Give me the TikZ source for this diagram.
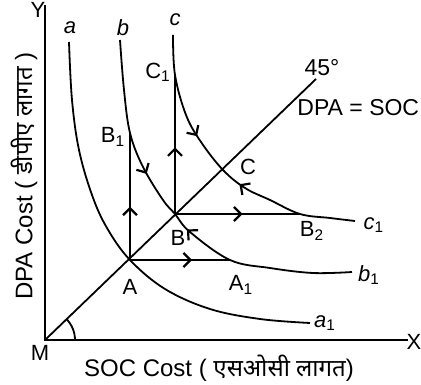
\documentclass[tikz,border=0pt]{standalone}
\usepackage{fontspec}
\setmainfont{Liberation Sans}
\newfontfamily\deva[Script=Devanagari]{Noto Sans}
\usetikzlibrary{arrows.meta, decorations.markings}

\tikzset{
  lbl/.style={font=\fontsize{11}{13}\selectfont, inner sep=0pt},
  chev/.tip={Straight Barb[length=3.5pt,width=7pt,line width=1.1pt]},
  midarrow/.style={postaction={decorate},
    decoration={markings, mark=at position #1 with {\arrow{chev}}}},
}

\begin{document}
\begin{tikzpicture}[x=0.5pt, y=-0.5pt, line width=0.9pt]
    \useasboundingbox (0,0) rectangle (421,384);
    % points
    \coordinate (M) at (45,340);
    \coordinate (Xend) at (408,340);
    \coordinate (Yend) at (45,5);
    \coordinate (Dend) at (316,79);
    \coordinate (A) at (130,260);
    \coordinate (B) at (175,214);
    \coordinate (C) at (223,170);
    \coordinate (A1) at (230,260);
    \coordinate (B1) at (130,133);
    \coordinate (B2) at (300,214);
    \coordinate (C1) at (175,75);

    % axes
    \draw (Yend) -- (M) -- (Xend);
    % 45 degree line
    \draw (M) -- (Dend);
    \draw (M) ++(30,0) arc[start angle=0, end angle=-45, radius=30];

    % curve a
    \draw plot[smooth, tension=0.6] coordinates {(69,42) (72,100) (79,150) (92,195) (107,228) (A) (165,289) (210,309) (260,319) (310,323)};
    % curve b
    \draw[postaction={decorate}, decoration={markings,
        mark=at position 0.36 with {\arrow{chev}},
        mark=at position 0.54 with {\arrowreversed{chev}}}]
      plot[smooth, tension=0.6] coordinates {(120,40) (124,90) (B1) (143,167) (163,200) (B) (190,232) (A1) (270,268) (313,273) (352,272)};
    % curve c
    \draw[postaction={decorate}, decoration={markings,
        mark=at position 0.36 with {\arrow{chev}},
        mark=at position 0.58 with {\arrowreversed{chev}}}]
      plot[smooth, tension=0.6] coordinates {(173,35) (C1) (186,115) (201,142) (C) (245,188) (270,200) (B2) (330,218) (355,221)};

    % paths from A and B
    \draw[midarrow=0.42] (A) -- (B1);
    \draw[midarrow=0.62] (A) -- (A1);
    \draw[midarrow=0.48] (B) -- (C1);
    \draw[midarrow=0.54] (B) -- (B2);

    % labels
    \node[lbl] (lY) at (38,10) {Y};
    \node[lbl] (lX) at (414,342) {X};
    \node[lbl] (lM) at (40,353) {M};
    \node[lbl] (la) at (70,28) {\textit{a}};
    \node[lbl] (lb) at (123,28) {\textit{b}};
    \node[lbl] (lc) at (175,20) {\textit{c}};
    \node[lbl] (la1) at (325,323) {\textit{a}\textsubscript{1}};
    \node[lbl] (lb1) at (369,275) {\textit{b}\textsubscript{1}};
    \node[lbl] (lc1) at (374,225) {\textit{c}\textsubscript{1}};
    \node[lbl] (lA) at (130,287) {A};
    \node[lbl] (lB) at (178,238) {B};
    \node[lbl] (lC) at (248,167) {C};
    \node[lbl] (lA1) at (241,285) {A\textsubscript{1}};
    \node[lbl] (lB1) at (113,137) {B\textsubscript{1}};
    \node[lbl] (lB2) at (312,231) {B\textsubscript{2}};
    \node[lbl] (lC1) at (158,72) {C\textsubscript{1}};
    \node[lbl, font=\fontsize{11.5}{13}\selectfont] (l45) at (322,68) {45°};
    \node[lbl, anchor=east, font=\fontsize{11.5}{13}\selectfont] (lDS) at (420,108) {DPA = SOC};

    % axis titles
    \node[lbl, font=\fontsize{12}{14}\selectfont] (xt) at (219,368) {SOC Cost ( {\deva एसओसी लागत})};
    \node[lbl, font=\fontsize{12}{14}\selectfont, rotate=90] (yt) at (24,176) {DPA Cost ( {\deva डीपीए लागत} )};
\end{tikzpicture}
\end{document}
